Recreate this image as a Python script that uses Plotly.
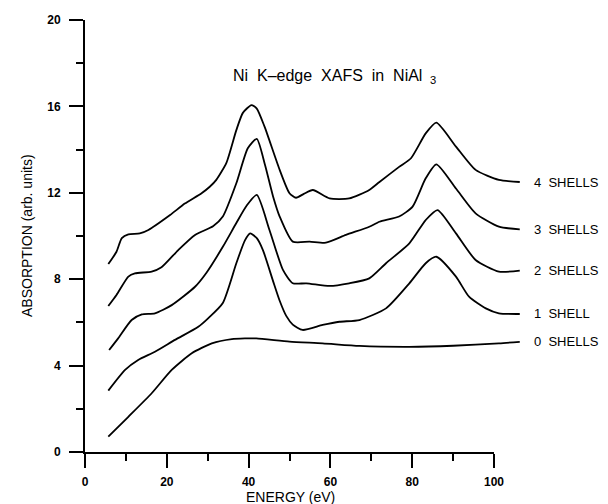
import plotly.graph_objects as go

# ---- data (energy in eV, absorption in arb. units) ----
x0 = [5.7, 10.6, 16.3, 21.2, 26.1, 31.0, 35.9, 39.1, 41.9, 50.0, 58.1, 67.1, 79.3, 90.0, 101.2, 106.3]
y0 = [0.71, 1.63, 2.72, 3.8, 4.57, 5.03, 5.23, 5.26, 5.26, 5.11, 5.03, 4.91, 4.87, 4.92, 5.03, 5.1]

x1 = [5.7, 9.8, 13.0, 17.1, 22.0, 27.7, 30.1, 33.7, 37.0, 39.1, 40.4, 42.0, 43.5, 46.0, 47.6, 49.2,
      50.8, 53.2, 58.1, 62.2, 67.1, 73.6, 79.3, 83.3, 85.9, 90.7, 93.9, 98.0, 101.2, 106.3]
y1 = [2.84, 3.8, 4.26, 4.64, 5.19, 5.8, 6.19, 6.9, 8.74, 9.8, 10.12, 9.9, 9.35, 7.9, 7.0, 6.3,
      5.9, 5.65, 5.88, 6.03, 6.11, 6.65, 7.81, 8.74, 9.04, 8.12, 7.19, 6.65, 6.42, 6.39]

x2 = [5.9, 8.1, 11.4, 13.9, 17.1, 21.2, 26.9, 29.7, 33.7, 37.0, 39.5, 42.0, 45.1, 48.4, 50.8,
      54.1, 59.8, 64.6, 69.5, 73.6, 79.3, 83.3, 86.2, 90.7, 95.5, 101.2, 106.3]
y2 = [4.72, 5.26, 6.11, 6.37, 6.42, 6.8, 7.65, 8.3, 9.5, 10.6, 11.4, 11.9, 10.28, 8.43, 7.81,
      7.81, 7.69, 7.81, 8.04, 8.74, 9.66, 10.74, 11.2, 10.12, 8.89, 8.35, 8.4]

x3 = [5.7, 7.7, 10.6, 12.2, 16.3, 18.7, 22.8, 26.9, 31.3, 33.7, 37.0, 39.8, 42.0, 44.0, 46.0,
      47.6, 50.8, 54.9, 58.9, 63.8, 69.5, 72.0, 76.8, 80.1, 83.3, 85.9, 90.7, 95.5, 101.2, 106.3]
y3 = [6.76, 7.27, 8.12, 8.27, 8.35, 8.55, 9.35, 10.05, 10.45, 10.9, 12.44, 14.06, 14.5, 13.3, 11.82,
      10.9, 9.74, 9.74, 9.69, 10.05, 10.43, 10.66, 10.9, 11.36, 12.67, 13.32, 12.2, 11.05, 10.43, 10.31]

x4 = [5.7, 7.7, 9.0, 10.6, 13.4, 15.5, 20.8, 24.4, 28.5, 30.5, 32.1, 34.6, 37.0, 38.6, 40.7, 42.0,
      43.9, 47.6, 50.0, 51.6, 53.5, 55.7, 59.8, 64.6, 69.5, 72.0, 76.8, 79.7, 83.3, 85.9, 90.7, 95.5,
      101.2, 106.3]
y4 = [8.7, 9.27, 9.9, 10.08, 10.12, 10.28, 10.97, 11.5, 11.98, 12.28, 12.6, 13.4, 14.9, 15.7, 16.06, 15.9,
      15.06, 13.06, 11.98, 11.77, 11.95, 12.13, 11.74, 11.74, 12.13, 12.5, 13.2, 13.6, 14.75, 15.25, 14.14, 13.06,
      12.6, 12.5]

series = [
    ("0 SHELLS", x0, y0),
    ("1 SHELL", x1, y1),
    ("2 SHELLS", x2, y2),
    ("3 SHELLS", x3, y3),
    ("4 SHELLS", x4, y4),
]

x_ticks = [0, 20, 40, 60, 80, 100]
y_ticks = [0, 4, 8, 12, 16, 20]

FONT = "Liberation Sans, Arial, sans-serif"
PX_PER_EV = 4.09
PLOT_W = 440
NB = "\u00a0"

fig = go.Figure()
# empty trace on the visible 0-100 axis so that axis gets drawn
fig.add_trace(go.Scatter(x=[], y=[], xaxis="x2", yaxis="y", mode="lines",
                         showlegend=False, hoverinfo="skip"))
for name, xs, ys in series:
    fig.add_trace(go.Scatter(
        x=xs, y=ys, mode="lines", name=name, xaxis="x", yaxis="y",
        line=dict(color="black", width=1.8, shape="spline", smoothing=0.6),
        showlegend=False, hoverinfo="skip",
    ))

annotations = []
for name, xs, ys in series:
    annotations.append(dict(
        x=xs[-1], y=ys[-1], xref="x", yref="y", text=name.replace(" ", NB + NB), showarrow=False,
        xanchor="left", yanchor="middle", xshift=12,
        font=dict(family=FONT, size=13, color="black"),
    ))

title_txt = (NB + NB).join(["Ni", "K\u2013edge", "XAFS", "in", "NiAl"]) + NB + "<sub>" + NB + "3</sub>"
annotations.append(dict(
    x=(334 - 85) / PLOT_W, y=(452 - 76) / 432, xref="paper", yref="paper",
    text=title_txt, showarrow=False,
    xanchor="center", yanchor="middle",
    font=dict(family=FONT, size=16, color="black"),
))
annotations.append(dict(
    x=(27 - 85) / PLOT_W, y=0.5, xref="paper", yref="paper",
    text="ABSORPTION (arb. units)", textangle=-90, showarrow=False,
    xanchor="center", yanchor="middle",
    font=dict(family=FONT, size=14, color="black"),
))
annotations.append(dict(
    x=(290 - 85) / PLOT_W, y=-(497 - 452) / 432, xref="paper", yref="paper",
    text="ENERGY (eV)", showarrow=False,
    xanchor="center", yanchor="middle",
    font=dict(family=FONT, size=14, color="black"),
))

fig.update_layout(
    width=608, height=504,
    margin=dict(l=85, r=83, t=20, b=52),
    paper_bgcolor="white", plot_bgcolor="rgba(0,0,0,0)",
    # data axis: full width (curves run past 100 eV), hidden
    xaxis=dict(
        domain=[0, 1], range=[0, PLOT_W / PX_PER_EV], anchor="y",
        visible=False, showgrid=False, zeroline=False,
    ),
    # visible axis: 0-100 eV on the same scale
    xaxis2=dict(
        domain=[0, 100 * PX_PER_EV / PLOT_W], range=[0, 100], anchor="y",
        showline=True, linecolor="black", linewidth=2,
        showgrid=False, zeroline=False,
        tickvals=x_ticks, ticktext=[str(v) for v in x_ticks],
        ticks="outside", ticklen=14, tickwidth=2, tickcolor="black",
        ticklabelstandoff=4,
        tickfont=dict(family=FONT, size=12, color="black", weight="bold"),
        minor=dict(dtick=10, tick0=0, ticks="outside", ticklen=7, tickwidth=2, tickcolor="black", showgrid=False),
    ),
    yaxis=dict(
        range=[0, 20], anchor="x",
        showline=True, linecolor="black", linewidth=2,
        showgrid=False, zeroline=False,
        tickvals=y_ticks, ticktext=[str(v) for v in y_ticks],
        ticks="outside", ticklen=14, tickwidth=2, tickcolor="black",
        ticklabelstandoff=6,
        tickfont=dict(family=FONT, size=12, color="black", weight="bold"),
        minor=dict(dtick=2, tick0=0, ticks="outside", ticklen=7, tickwidth=2, tickcolor="black", showgrid=False),
    ),
    annotations=annotations,
)

fig.write_html("out.html")
